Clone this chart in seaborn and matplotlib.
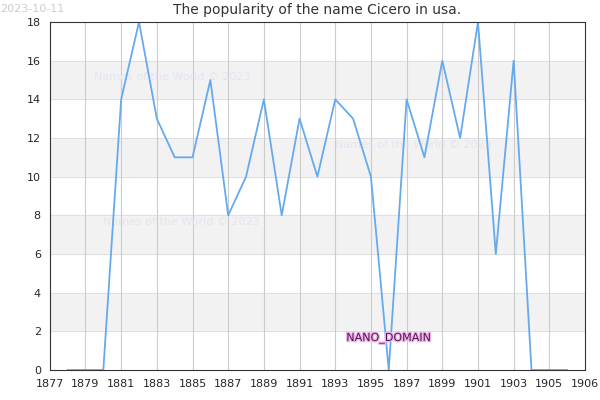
import matplotlib
matplotlib.use("Agg")
import matplotlib.pyplot as plt
import matplotlib.patheffects as pe
import seaborn as sns
import pandas as pd

years = list(range(1878, 1907))
counts = [0, 0, 0, 14, 18, 13, 11, 11, 15, 8, 10, 14, 8, 13, 10, 14, 13, 10, 0,
          14, 11, 16, 12, 18, 6, 16, 0, 0, 0]
df = pd.DataFrame({'year': years, 'count': counts})
tick_years = list(range(1877, 1906, 2)) + [1907]
tick_labels = [str(y) for y in range(1877, 1906, 2)] + ['1906']

sns.set_style("white")
plt.rcParams['font.family'] = ['DejaVu Sans']

fig, ax = plt.subplots(figsize=(6, 4), dpi=100)
fig.subplots_adjust(left=0.083, right=0.975, top=0.945, bottom=0.075)

for lo in [2, 6, 10, 14]:
    ax.axhspan(lo, lo + 2, color='#f2f2f2', zorder=0)
for y in range(0, 19, 2):
    ax.axhline(y, color='#dddddd', linewidth=0.6, zorder=0)
for x in range(1879, 1906, 2):
    ax.axvline(x, color='#cccccc', linewidth=0.8, zorder=0)

sns.lineplot(data=df, x='year', y='count', ax=ax, color='#66aaee', linewidth=1.3)

ax.set_xlim(1877, 1907)
ax.set_ylim(0, 18)
ax.set_xticks(tick_years)
ax.set_xticklabels(tick_labels)
ax.set_yticks(range(0, 19, 2))
ax.tick_params(labelsize=8, length=3)
ax.set_xlabel('')
ax.set_ylabel('')
for s in ax.spines.values():
    s.set_color('#333333')
    s.set_linewidth(0.8)
ax.set_title('The popularity of the name Cicero in usa.', fontsize=10, color='#333333')

fig.text(0.0, 0.99, '2023-10-11', fontsize=8, color='#cccccc', va='top')
for tx, ty in [(1879.5, 15), (1893, 11.5), (1880, 7.5)]:
    ax.text(tx, ty, 'Names of the World © 2023', fontsize=8, color='#e4e4f4', zorder=1)
ax.text(1896, 1.5, 'NANO_DOMAIN', fontsize=8, color='#5a1050', ha='center',
        path_effects=[pe.withStroke(linewidth=2, foreground='#e9b8e9')])

fig.savefig('out.png')
